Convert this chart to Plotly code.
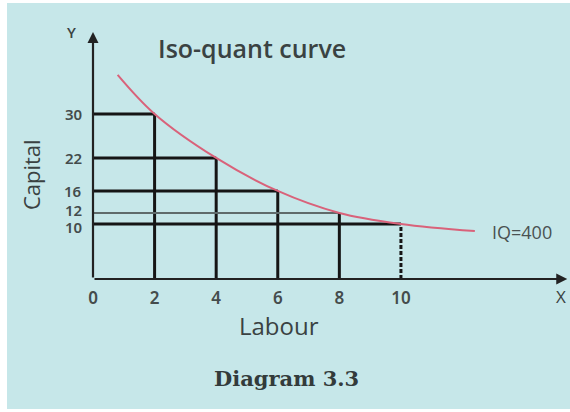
import plotly.graph_objects as go

# values
labour = [2, 4, 6, 8, 10]
capital = [30, 22, 16, 12, 10]
x_ticks = [0, 2, 4, 6, 8, 10]
y_ticks = [30, 22, 16, 12, 10]

# iso-quant curve IQ=400 (points along the drawn curve)
curve_x = [0.8, 2, 4, 6, 8, 10, 12.4]
curve_y = [37.1, 30, 22, 16, 12, 10, 8.7]

INK = "#151515"
TXT = "#3a4242"
FONT = "Open Sans"
TICKFONT = "Noto Sans"

fig = go.Figure()

# guide lines from each point to the axes
for lx, cy in zip(labour, capital):
    hcol, hw = (INK, 3)
    if cy == 12:
        hcol, hw = ("#5f6b6b", 2)
    fig.add_trace(go.Scatter(x=[0, lx], y=[cy, cy], mode="lines",
                             line=dict(color=hcol, width=hw),
                             hoverinfo="skip", showlegend=False))
    vdash = "4px,2px" if lx == 10 else "solid"
    fig.add_trace(go.Scatter(x=[lx, lx], y=[0, cy], mode="lines",
                             line=dict(color=INK, width=3, dash=vdash),
                             hoverinfo="skip", showlegend=False))

fig.add_trace(go.Scatter(x=curve_x, y=curve_y, mode="lines",
                         line=dict(color="#d9627a", width=2, shape="spline"),
                         hoverinfo="skip", showlegend=False))

# axes with arrows
fig.add_annotation(x=0, y=44.9, ax=0, ay=0, xref="x", yref="y", axref="x", ayref="y",
                   text="", showarrow=True, arrowhead=2, arrowsize=1,
                   arrowwidth=2.2, arrowcolor="#222")
fig.add_annotation(x=15.4, y=0, ax=0, ay=0, xref="x", yref="y", axref="x", ayref="y",
                   text="", showarrow=True, arrowhead=2, arrowsize=1,
                   arrowwidth=2.2, arrowcolor="#222")

# capital tick labels; the two closest ones are nudged apart a little
for v in y_ticks:
    nudge = {12: 3, 10: -3}.get(v, 0)
    fig.add_annotation(x=0, y=v, text=str(v), showarrow=False, borderpad=0,
                       xanchor="right", yanchor="middle", xshift=-10, yshift=nudge,
                       font=dict(family=TICKFONT, size=15, color="#444c4c", weight=600))

fig.add_annotation(x=5.16, y=42.0, text="Iso-quant curve", showarrow=False,
                   font=dict(family=FONT, size=25, color=TXT, weight=600))
fig.add_annotation(x=13.93, y=8.5, text="IQ=400", showarrow=False,
                   font=dict(family=FONT, size=18, color="#4a5252"))

# texts outside the plotting area, in paper units
outside = [
    dict(x=-0.045, y=0.885, text="Y", size=15, angle=0, weight=600),
    dict(x=0.981, y=-0.061, text="X", size=17, angle=0, weight=400),
    dict(x=0.390, y=-0.168, text="Labour", size=24, angle=0, weight=500),
    dict(x=-0.130, y=0.376, text="Capital", size=22, angle=-90, weight=500),
]
for a in outside:
    fig.add_annotation(xref="paper", yref="paper", x=a["x"], y=a["y"], text=a["text"],
                       textangle=a["angle"], xanchor="center", yanchor="middle",
                       showarrow=False,
                       font=dict(family=FONT, size=a["size"], color=TXT,
                                 weight=a["weight"]))
fig.add_annotation(xref="paper", yref="paper", x=0.4067, y=-0.355,
                   xanchor="center", yanchor="middle",
                   text="<b>Diagram 3.3</b>", showarrow=False,
                   font=dict(family="DejaVu Serif", size=21, color="#333b3b"))

# light cyan panel inside a thin white frame
fig.add_shape(type="rect", xref="paper", yref="paper",
              x0=-0.1803, x1=1.0, y0=-0.466, y1=0.989,
              fillcolor="#c6e7e9", line=dict(width=0), layer="below")

fig.update_xaxes(range=[0, 15.49], tickvals=x_ticks, showgrid=False, zeroline=False,
                 showline=False, ticks="", ticklabelstandoff=7,
                 tickfont=dict(family=TICKFONT, size=17, color="#444c4c", weight=600))
fig.update_yaxes(range=[0, 50.7], showticklabels=False, showgrid=False,
                 zeroline=False, showline=False, ticks="")

fig.update_layout(width=570, height=412,
                  margin=dict(l=93, r=0, t=0, b=133),
                  paper_bgcolor="white", plot_bgcolor="rgba(0,0,0,0)")

fig.write_html("out.html", config={"displayModeBar": False},
               post_script="document.body.style.margin='0px';")
